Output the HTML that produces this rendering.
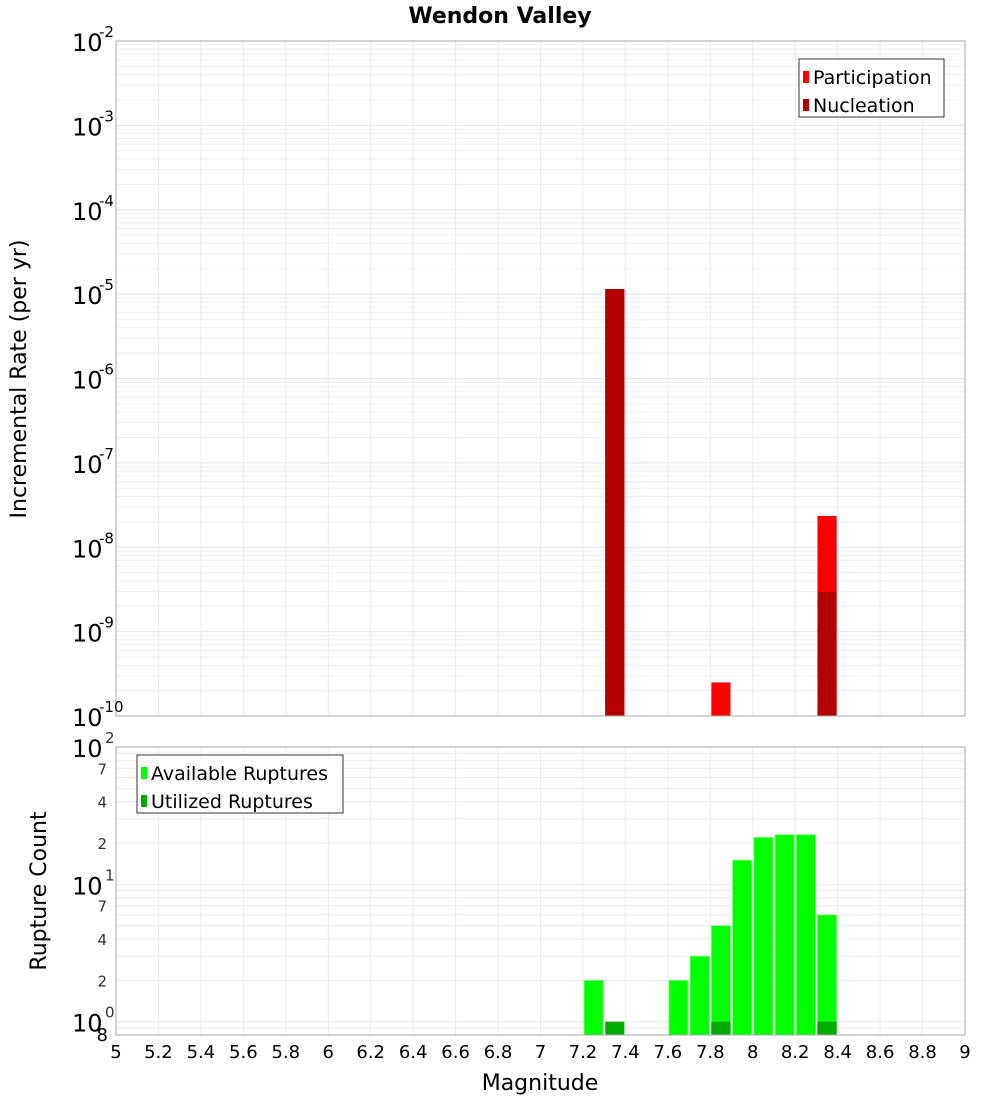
<!DOCTYPE html>
<html><head><meta charset="utf-8"><style>
body{margin:0;background:#fff;font-family:"Liberation Sans","DejaVu Sans",sans-serif}
svg text{font-family:"DejaVu Sans","Liberation Sans",sans-serif}
</style></head><body>
<svg id="c" width="1000" height="1100" xmlns="http://www.w3.org/2000/svg"></svg>
<script>
const rateBins=[7.35,7.85,8.35];
const participation=[1.15e-5,2.5e-10,2.35e-8];
const nucleation=[1.15e-5,0,2.95e-9];
const countBins=[7.25,7.35,7.65,7.75,7.85,7.95,8.05,8.15,8.25,8.35];
const available=[2,0,2,3,5,15,22,23,23,6];
const utilized=[0,1,0,0,1,0,0,0,0,1];
const xTicks=[5,5.2,5.4,5.6,5.8,6,6.2,6.4,6.6,6.8,7,7.2,7.4,7.6,7.8,8,8.2,8.4,8.6,8.8,9];
const topExps=[-2,-3,-4,-5,-6,-7,-8,-9,-10];
const botMinor=[7,4,2];

const svg=document.getElementById('c');const NS='http://www.w3.org/2000/svg';
function el(t,a,p){const e=document.createElementNS(NS,t);for(const k in a)e.setAttribute(k,a[k]);(p||svg).appendChild(e);return e;}
const X0=116,X1=965;
const x=v=>X0+(v-5)/4*(X1-X0);
const T0=41,T1=716;
const yTop=v=>T0+(-2-Math.log10(v))/8*(T1-T0);
const B0=747,B1=1035;
const yBot=v=>B0+(2-Math.log10(v))/(2-Math.log10(0.8))*(B1-B0);
const bw=0.09;

// top grid
for(let d=-10;d<-2;d++)for(let m=1;m<10;m++){const yy=yTop(m*Math.pow(10,d));
 const g=el('line',{x1:X0,x2:X1,y1:yy,y2:yy,stroke:m==1?'#e4e4e4':'#efefef','stroke-width':1});
 }
xTicks.forEach(t=>{const g=el('line',{x1:x(t),x2:x(t),y1:T0,y2:T1,stroke:'#ebebeb'});
 
 const h=el('line',{x1:x(t),x2:x(t),y1:B0,y2:B1,stroke:'#ebebeb'});
 });
// bottom grid
[-1,0,1].forEach(d=>{for(let m=1;m<10;m++){const v=m*Math.pow(10,d);if(v<0.8)continue;const yy=yBot(v);
 const g=el('line',{x1:X0,x2:X1,y1:yy,y2:yy,stroke:'#ebebeb'});
 }});

// top bars
rateBins.forEach((b,i)=>{
 if(participation[i]>0){const r=el('rect',{x:x(b-bw/2),width:x(b+bw/2)-x(b-bw/2),y:yTop(participation[i]),height:T1-yTop(participation[i]),fill:'#ff0000'});
 }
 if(nucleation[i]>0){const r=el('rect',{x:x(b-bw/2),width:x(b+bw/2)-x(b-bw/2),y:yTop(nucleation[i]),height:T1-yTop(nucleation[i]),fill:'#b30000'});
 }
});
// bottom bars
countBins.forEach((b,i)=>{
 if(available[i]>0){const r=el('rect',{x:x(b-bw/2),width:x(b+bw/2)-x(b-bw/2),y:yBot(available[i]),height:B1-yBot(available[i]),fill:'#00ff00',stroke:'#7fff7f','stroke-width':0.8});
 }
 if(utilized[i]>0){const r=el('rect',{x:x(b-bw/2),width:x(b+bw/2)-x(b-bw/2),y:yBot(utilized[i]),height:B1-yBot(utilized[i]),fill:'#00aa00'});
 }
});
// frames
let f=el('rect',{x:X0,y:T0,width:X1-X0,height:T1-T0,fill:'none',stroke:'#aaa'});
f=el('rect',{x:X0,y:B0,width:X1-X0,height:B1-B0,fill:'none',stroke:'#aaa'});

// top y labels
topExps.forEach(e=>{const yy=yTop(Math.pow(10,e));
 const t=el('text',{x:72,y:yy+10,'font-size':24,fill:'#000'});t.textContent='10';
 
 const s=el('text',{x:99,y:yy-4,'font-size':15,fill:'#000'});s.textContent=String(e);
 });
// bottom y labels
[2,1,0].forEach(e=>{const yy=yBot(Math.pow(10,e));
 const t=el('text',{x:72,y:yy+10,'font-size':24,fill:'#000'});t.textContent='10';
 
 const s=el('text',{x:105,y:yy-4,'font-size':15,fill:'#333'});s.textContent=String(e);
 });
[1,0].forEach(e=>botMinor.forEach(m=>{const yy=yBot(m*Math.pow(10,e));
 const t=el('text',{x:107,y:yy+6,'font-size':15,fill:'#333','text-anchor':'end'});t.textContent=String(m);
 }));
let t8=el('text',{x:108,y:yBot(0.8)+6,'font-size':18,fill:'#000','text-anchor':'end'});t8.textContent='8';


// x labels
xTicks.forEach(t=>{const s=el('text',{x:x(t),y:1058,'font-size':18,'text-anchor':'middle',fill:'#000'});s.textContent=String(t);
 });
let tt=el('text',{x:540,y:1090,'font-size':22,'text-anchor':'middle'});tt.textContent='Magnitude';
tt=el('text',{x:500,y:23,'font-size':22,'font-weight':'bold','text-anchor':'middle'});tt.textContent='Wendon Valley';
tt=el('text',{x:0,y:0,'font-size':22,'text-anchor':'middle',transform:'translate(26,379) rotate(-90)'});tt.textContent='Incremental Rate (per yr)';
tt=el('text',{x:0,y:0,'font-size':22,'text-anchor':'middle',transform:'translate(46,891) rotate(-90)'});tt.textContent='Rupture Count';

// legends
function legend(x0,y0,w,items,name){const g=el('g',{});
 el('rect',{x:x0,y:y0,width:w,height:58,fill:'#fff',stroke:'#333'},g);
 items.forEach((it,i)=>{const yy=y0+18+i*28;
  const r=el('rect',{x:x0+4,y:yy-6,width:6,height:12,fill:it[1]},g);
  const t=el('text',{x:x0+14,y:yy+7,'font-size':19},g);t.textContent=it[0];});}
legend(799,59,145,[['Participation','#ff0000'],['Nucleation','#b30000']],'top-legend');
legend(137,755,206,[['Available Ruptures','#00ff00'],['Utilized Ruptures','#00aa00']],'bottom-legend');
</script>
</body></html>
